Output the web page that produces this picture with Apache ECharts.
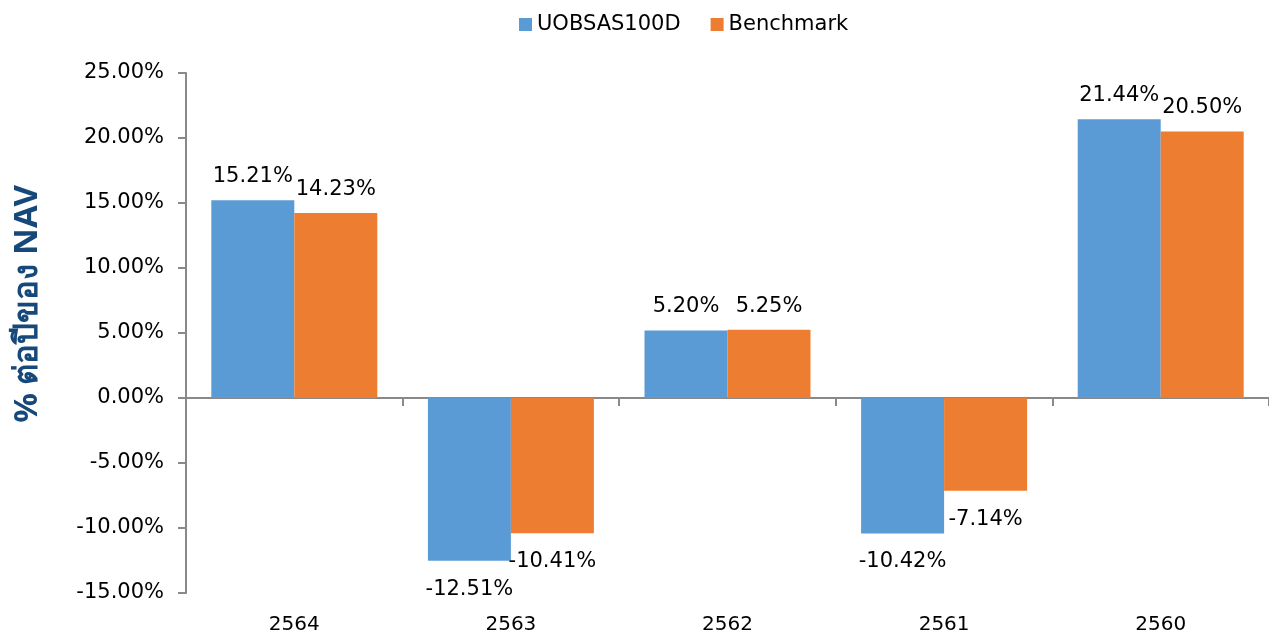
<!DOCTYPE html>
<html>
<head>
<meta charset="utf-8">
<script src="https://cdn.jsdelivr.net/npm/echarts@6/dist/echarts.min.js"></script>
<style>html,body{margin:0;padding:0;background:#fff}#c{width:1269px;height:637px}</style>
</head>
<body>
<div id="c"></div>
<script>
const categories = ['2564', '2563', '2562', '2561', '2560'];
const fundValues = [15.21, -12.51, 5.20, -10.42, 21.44];
const benchValues = [14.23, -10.41, 5.25, -7.14, 20.50];
const seriesNames = ['UOBSAS100D', 'Benchmark'];
const yAxisTitle = '% ต่อปีของ NAV';

const FONT = 'DejaVu Sans';
function items(vals) {
  return vals.map(v => ({ value: v, label: v < 0 ? { position: 'bottom', distance: 18 } : { position: 'top', distance: 13 } }));
}
const labelStyle = {
  show: true, color: '#000', fontFamily: FONT, fontSize: 21,
  formatter: p => p.value.toFixed(2) + '%'
};
const chart = echarts.init(document.getElementById('c'), null, { renderer: 'canvas' });
chart.setOption({
  animation: false,
  textStyle: { fontFamily: FONT },
  legend: {
    top: 9, left: 514, itemWidth: 13, itemHeight: 13, itemGap: 30,
    icon: 'rect',
    textStyle: { fontFamily: FONT, fontSize: 21, color: '#000' },
    data: seriesNames
  },
  grid: { left: 186, top: 73, width: 1090, height: 520, containLabel: false },
  xAxis: [
    {
      type: 'category', data: categories,
      axisLine: { onZero: true, lineStyle: { color: '#898989', width: 2 } },
      axisTick: { show: true, length: 8, lineStyle: { color: '#898989', width: 2 } },
      axisLabel: { show: false }
    },
    {
      type: 'category', data: categories, position: 'bottom',
      axisLine: { show: false, onZero: false },
      axisTick: { show: false },
      axisLabel: { show: true, margin: 22, fontFamily: FONT, fontSize: 20, color: '#000' }
    }
  ],
  yAxis: {
    type: 'value', min: -15, max: 25, interval: 5,
    axisLine: { show: true, lineStyle: { color: '#898989', width: 2 } },
    axisTick: { show: true, length: 8, lineStyle: { color: '#898989', width: 2 } },
    splitLine: { show: false },
    axisLabel: { margin: 22, fontFamily: FONT, fontSize: 21, color: '#000', formatter: v => v.toFixed(2) + '%' }
  },
  graphic: [{
    type: 'text', rotation: Math.PI / 2,
    x: 28, y: 304,
    style: {
      text: yAxisTitle, fill: '#16487a', font: 'bold 33px "Noto Sans", "DejaVu Sans", sans-serif',
      align: 'center', verticalAlign: 'middle'
    }
  }],
  series: [
    { name: seriesNames[0], type: 'bar', xAxisIndex: 0, barWidth: 83, barGap: '0%',
      itemStyle: { color: '#5B9BD5' }, label: labelStyle, data: items(fundValues) },
    { name: seriesNames[1], type: 'bar', xAxisIndex: 0, barWidth: 83, barGap: '0%',
      itemStyle: { color: '#ED7D31' }, label: labelStyle, data: items(benchValues) }
  ]
});
</script>
</body>
</html>
